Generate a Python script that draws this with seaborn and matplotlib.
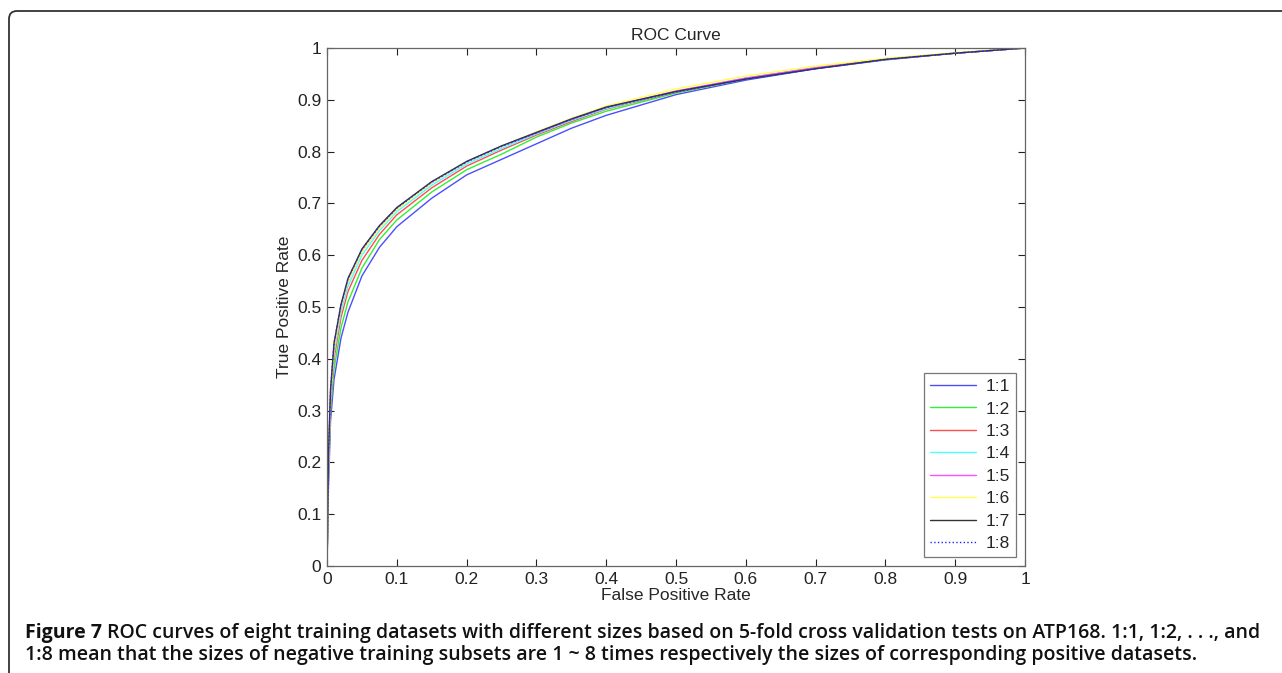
import numpy as np
import pandas as pd
import matplotlib
matplotlib.use("Agg")
import matplotlib.pyplot as plt
import seaborn as sns
from matplotlib.patches import FancyBboxPatch

# ROC points (false positive rate -> true positive rate)
fpr = [0, 0.002, 0.005, 0.01, 0.02, 0.03, 0.05, 0.075, 0.1, 0.15, 0.2, 0.25,
       0.3, 0.35, 0.4, 0.5, 0.6, 0.7, 0.8, 0.9, 1.0]
tpr_1_1 = [0, 0.15, 0.28, 0.36, 0.44, 0.49, 0.56, 0.615, 0.655, 0.71, 0.755, 0.785,
           0.815, 0.845, 0.87, 0.91, 0.938, 0.96, 0.977, 0.99, 1.0]
tpr_1_2 = [0, 0.17, 0.30, 0.38, 0.46, 0.51, 0.575, 0.63, 0.668, 0.722, 0.765, 0.795,
           0.828, 0.855, 0.878, 0.913, 0.94, 0.961, 0.978, 0.99, 1.0]
tpr_1_3 = [0, 0.18, 0.31, 0.40, 0.48, 0.53, 0.59, 0.64, 0.678, 0.73, 0.772, 0.803,
           0.832, 0.858, 0.882, 0.915, 0.941, 0.962, 0.978, 0.99, 1.0]
tpr_1_4 = [0, 0.19, 0.32, 0.41, 0.49, 0.54, 0.60, 0.647, 0.684, 0.735, 0.776, 0.806,
           0.834, 0.86, 0.883, 0.916, 0.942, 0.962, 0.978, 0.99, 1.0]
tpr_1_5 = [0, 0.20, 0.33, 0.42, 0.50, 0.55, 0.608, 0.653, 0.69, 0.74, 0.78, 0.81,
           0.836, 0.862, 0.885, 0.917, 0.942, 0.962, 0.979, 0.99, 1.0]
tpr_1_6 = [0, 0.20, 0.33, 0.42, 0.50, 0.55, 0.607, 0.652, 0.688, 0.74, 0.78, 0.81,
           0.838, 0.864, 0.888, 0.921, 0.946, 0.965, 0.98, 0.991, 1.0]
tpr_1_7 = [0, 0.21, 0.34, 0.43, 0.505, 0.555, 0.612, 0.657, 0.692, 0.742, 0.781, 0.811,
           0.837, 0.863, 0.886, 0.916, 0.94, 0.96, 0.978, 0.99, 1.0]
tpr_1_8 = [0, 0.21, 0.34, 0.43, 0.505, 0.555, 0.611, 0.656, 0.691, 0.741, 0.78, 0.81,
           0.836, 0.862, 0.885, 0.915, 0.94, 0.96, 0.978, 0.99, 1.0]

labels = ["1:1", "1:2", "1:3", "1:4", "1:5", "1:6", "1:7", "1:8"]
series = [tpr_1_1, tpr_1_2, tpr_1_3, tpr_1_4, tpr_1_5, tpr_1_6, tpr_1_7, tpr_1_8]
colors = ["#4d4dff", "#33ee33", "#ff4d4d", "#4dffff", "#ff4dff", "#ffff4d", "#333333", "#2222ff"]
styles = ["-", "-", "-", "-", "-", "-", "-", ":"]

rows = []
for lab, ys in zip(labels, series):
    for x, y in zip(fpr, ys):
        rows.append({"fpr": x, "tpr": y, "ratio": lab})
df = pd.DataFrame(rows)

sns.set_style("white")
plt.rcParams["font.family"] = ["Liberation Sans", "DejaVu Sans"]

fig = plt.figure(figsize=(12.82, 6.73), dpi=100)
ax = fig.add_axes([0.2551, 0.159, 0.5445, 0.7697])

for lab, col, ls in zip(labels, colors, styles):
    sub = df[df["ratio"] == lab]
    sns.lineplot(data=sub, x="fpr", y="tpr", ax=ax, color=col, linestyle=ls,
                 linewidth=1.0, label=lab, sort=False)

ax.set_xlim(0, 1)
ax.set_ylim(0, 1)
ax.set_xticks(np.arange(0, 1.01, 0.1))
ax.set_yticks(np.arange(0, 1.01, 0.1))
ax.set_xticklabels(["0"] + [f"{v:.1f}" for v in np.arange(0.1, 0.95, 0.1)] + ["1"])
ax.set_yticklabels(["0"] + [f"{v:.1f}" for v in np.arange(0.1, 0.95, 0.1)] + ["1"])
ax.tick_params(direction="in", length=5, width=0.8, labelsize=12.5, colors="#222222",
               top=True, right=True, bottom=True, left=True, pad=4)
for s in ax.spines.values():
    s.set_color("#666666")
    s.set_linewidth(0.9)

ax.set_title("ROC Curve", fontsize=12.5, pad=6)
ax.set_xlabel("False Positive Rate", fontsize=12.5, labelpad=1)
ax.set_ylabel("True Positive Rate", fontsize=12.5, labelpad=4)

leg = ax.legend(loc="lower right", fontsize=12.5, frameon=True, fancybox=False,
                handlelength=2.6, borderaxespad=0.5, labelspacing=0.42,
                borderpad=0.35, handletextpad=0.6)
leg.get_frame().set_edgecolor("#555555")
leg.get_frame().set_linewidth(0.9)

# outer frame of the figure panel (inches, so the corner stays round)
frame = FancyBboxPatch((0.09, -1.0), 14.0, 6.73 - 0.11 + 1.0,
                       boxstyle="round,pad=0,rounding_size=0.08",
                       transform=fig.dpi_scale_trans, fill=False,
                       edgecolor="#333333", linewidth=1.3)
fig.patches.append(frame)

cap_font = ["Open Sans", "DejaVu Sans"]
cap_size = 14
fig.canvas.draw()
t1 = fig.text(25 / 1282, 1 - 633 / 673, "Figure 7", fontsize=cap_size, fontweight="bold",
              family=cap_font, va="center", ha="left", color="#111111")
bb = t1.get_window_extent(renderer=fig.canvas.get_renderer())
x2 = (bb.x1 + 5) / fig.bbox.width
fig.text(x2, 1 - 633 / 673,
         "ROC curves of eight training datasets with different sizes based on 5-fold cross validation tests on ATP168. 1:1, 1:2, . . ., and",
         fontsize=cap_size, fontweight="semibold", family=cap_font, va="center", ha="left", color="#111111")
fig.text(25 / 1282, 1 - 655 / 673,
         "1:8 mean that the sizes of negative training subsets are 1 ~ 8 times respectively the sizes of corresponding positive datasets.",
         fontsize=cap_size, fontweight="semibold", family=cap_font, va="center", ha="left", color="#111111")

fig.savefig("out.png", dpi=100)
